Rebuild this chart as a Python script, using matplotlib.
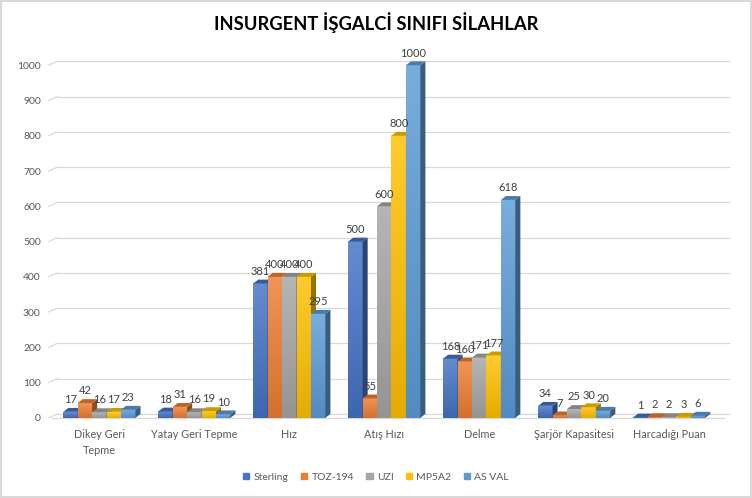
import matplotlib.pyplot as plt
import matplotlib.patches as mpatches
import numpy as np
from matplotlib.colors import to_rgb

plt.rcParams['font.family'] = ['Lato', 'DejaVu Sans']

# data
categories = ['Dikey Geri\nTepme', 'Yatay Geri Tepme', 'Hız', 'Atış Hızı',
              'Delme', 'Şarjör Kapasitesi', 'Harcadığı Puan']
series = ['Sterling', 'TOZ-194', 'UZI', 'MP5A2', 'AS VAL']
sterling = [17, 18, 381, 500, 168, 34, 1]
toz194 = [42, 31, 400, 55, 160, 7, 2]
uzi = [16, 16, 400, 600, 171, 25, 2]
mp5a2 = [17, 19, 400, 800, 177, 30, 3]
asval = [23, 10, 295, 1000, 618, 20, 6]
values = [sterling, toz194, uzi, mp5a2, asval]
colors = ['#4472C4', '#ED7D31', '#A5A5A5', '#FFC000', '#5B9BD5']
yticks = [0, 100, 200, 300, 400, 500, 600, 700, 800, 900, 1000]


def mix(c, other, t):
    c = np.array(to_rgb(c))
    return tuple(c * (1 - t) + np.array(other) * t)


fig = plt.figure(figsize=(7.52, 4.98), dpi=100)
fig.patch.set_edgecolor('#D9D9D9')
fig.patch.set_linewidth(1.5)
ax = fig.add_axes([0.069, 0.161, 0.884, 0.708])

bw = 0.152
dx = 0.053   # depth, x data units
dy = 11.0    # depth, y data units

# gridlines on back wall + small diagonal on the left
for t in yticks:
    ax.plot([-0.5 + dx, 6.5 + dx * 2.5], [t + dy, t + dy], color='#D9D9D9', lw=0.9,
            zorder=0, clip_on=False)
    ax.plot([-0.5 - dx * 0.6, -0.5 + dx], [t, t + dy], color='#D9D9D9', lw=0.9,
            zorder=0, clip_on=False)
ax.plot([-0.5, 6.5 + dx * 1.5], [0, 0], color='#D9D9D9', lw=0.9, zorder=0.5, clip_on=False)

x = np.arange(len(categories))
z = 1
for i in range(len(categories)):
    for j, s in enumerate(series):
        v = values[j][i]
        left = x[i] + (j - 2.5) * bw
        right = left + bw
        c = colors[j]
        # front face with vertical gradient
        grad = np.linspace(0, 1, 64)[:, None]
        top_c = np.array(mix(c, (1, 1, 1), 0.18))
        bot_c = np.array(mix(c, (0, 0, 0), 0.1))
        img = top_c * (1 - grad[..., None]) + bot_c * grad[..., None]
        img = np.repeat(img, 2, axis=1)
        ax.imshow(img, extent=[left, right, 0, max(v, 0.5)], aspect='auto',
                  origin='upper', zorder=z, interpolation='bilinear')
        # side face
        side = mpatches.Polygon([[right, 0], [right + dx, dy], [right + dx, v + dy], [right, v]],
                                closed=True, facecolor=mix(c, (0, 0, 0), 0.4),
                                edgecolor='none', zorder=z, clip_on=False)
        ax.add_patch(side)
        # top face
        topf = mpatches.Polygon([[left, v], [left + dx, v + dy], [right + dx, v + dy], [right, v]],
                                closed=True, facecolor=mix(c, (0, 0, 0), 0.2),
                                edgecolor='none', zorder=z, clip_on=False)
        ax.add_patch(topf)
        z += 1
        ax.text(left + bw / 2, v + dy + 8, str(v), ha='center', va='bottom',
                fontsize=8, color='#404040', zorder=200, clip_on=False)

ax.set_xlim(-0.5, 6.5)
ax.set_ylim(0, 1000)
ax.set_yticks(yticks)
ax.set_yticklabels([str(t) for t in yticks], fontsize=7.5, color='#595959')
ax.set_xticks(x)
ax.set_xticklabels(categories, fontsize=7.8, color='#595959', linespacing=1.6)
ax.tick_params(axis='both', length=0)
ax.tick_params(axis='y', pad=8)
ax.tick_params(axis='x', pad=8)
for sp in ax.spines.values():
    sp.set_visible(False)
ax.set_facecolor('none')

fig.text(0.5, 0.955, 'INSURGENT İŞGALCİ SINIFI SİLAHLAR', ha='center', va='center',
         fontsize=13.2, fontweight='bold', color='#000000')

handles = [mpatches.Patch(color=c, label=s) for c, s in zip(colors, series)]
fig.legend(handles=handles, loc='center', bbox_to_anchor=(0.5, 0.042), ncol=5,
           frameon=False, fontsize=7.5, handlelength=0.6, handleheight=0.6,
           handletextpad=0.4, columnspacing=1.2, labelcolor='#595959')

fig.savefig('out.png', dpi=100)
